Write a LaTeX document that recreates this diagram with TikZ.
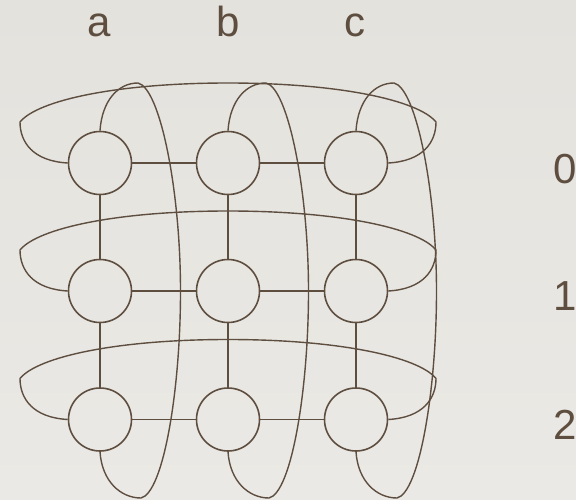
\documentclass[tikz,border=0pt]{standalone}
\usepackage{fontspec}
\setmainfont{Liberation Sans}
\definecolor{ink}{RGB}{94,78,64}
\definecolor{bgtop}{RGB}{228,226,221}
\definecolor{bgbot}{RGB}{235,233,229}
\begin{document}
\begin{tikzpicture}[x=1pt,y=-1pt,
  vertex/.style={circle,draw=ink,line width=1.6pt,minimum size=63pt,inner sep=0pt},
  hedge/.style={draw=ink,line width=1.6pt},
  vedge/.style={draw=ink,line width=2.1pt},
  wrap/.style={draw=ink,line width=1.4pt},
  lbl/.style={text=ink,font=\fontsize{42}{42}\selectfont,inner sep=0pt,anchor=base}]
\shade[top color=bgtop,bottom color=bgbot] (0,0) rectangle (576,500);
\useasboundingbox (0,0) rectangle (576,500);
% vertices
\foreach \c/\x in {a/100,b/228,c/356}{
  \foreach \r/\y in {0/163,1/291,2/419.5}{
    \node[vertex] (\c\r) at (\x,\y) {};
  }
}
% grid edges
\foreach \r in {0,1,2}{
  \draw[hedge] (a\r.east) -- (b\r.west);
  \draw[hedge] (b\r.east) -- (c\r.west);
}
\foreach \c in {a,b,c}{
  \draw[vedge] (\c0.south) -- (\c1.north);
  \draw[vedge] (\c1.south) -- (\c2.north);
}
% row wrap-around loops
\foreach \r/\y in {0/163,1/291,2/419.5}{
  \coordinate (L\r) at (20,\y-41);
  \coordinate (T\r) at (228,\y-80);
  \coordinate (R\r) at (436,\y-41);
  \draw[wrap] (a\r.west) .. controls +(-35,-2) and +(0,20) .. (L\r)
    .. controls +(18,-22) and +(-110,0) .. (T\r)
    .. controls +(110,0) and +(-18,-22) .. (R\r)
    .. controls +(0,20) and +(35,-2) .. (c\r.east);
}
% column wrap-around loops
\foreach \c/\x in {a/100,b/228,c/356}{
  \coordinate (U\c) at (\x+38,83);
  \coordinate (S\c) at (\x+80.5,291);
  \coordinate (D\c) at (\x+41,498);
  \draw[wrap] (\c0.north) .. controls +(2,-30) and +(-20,0) .. (U\c)
    .. controls +(22,5) and +(0,-101) .. (S\c)
    .. controls +(0,101) and +(22,-5) .. (D\c)
    .. controls +(-20,0) and +(2,30) .. (\c2.south);
}
% labels
\node[lbl] (la) at (99,37) {a};
\node[lbl] (lb) at (228,37) {b};
\node[lbl] (lc) at (355,37) {c};
\node[lbl] (l0) at (565,183) {0};
\node[lbl] (l1) at (565,310) {1};
\node[lbl] (l2) at (565,439) {2};
\end{tikzpicture}
\end{document}
